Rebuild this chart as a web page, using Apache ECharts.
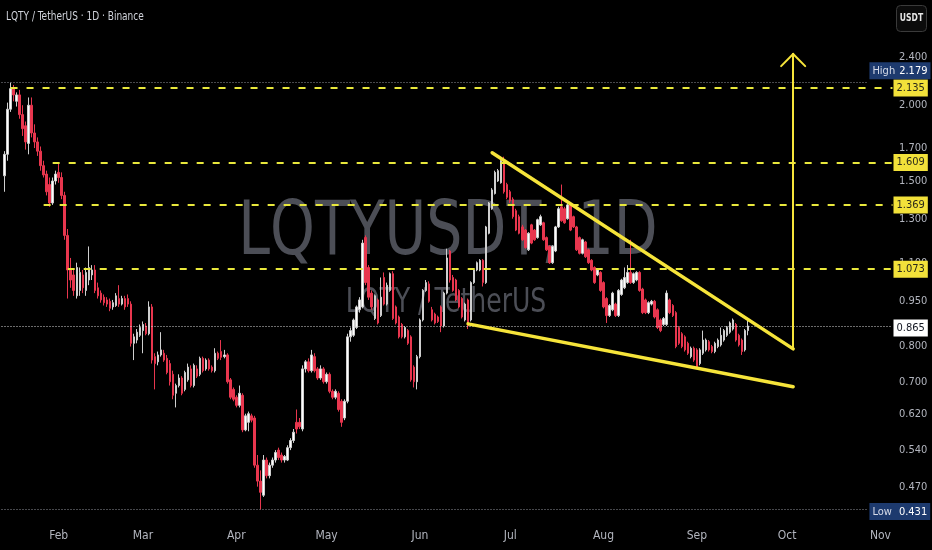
<!DOCTYPE html>
<html>
<head>
<meta charset="utf-8">
<script src="https://cdn.jsdelivr.net/npm/echarts@6/dist/echarts.min.js"></script>
<style>
  html, body { margin: 0; padding: 0; background: #000; }
  #chart { width: 932px; height: 550px; }
</style>
</head>
<body>
<div id="chart"></div>
<script>
// Daily candles, each [open, close, low, high]
const jan = [ // Jan 14 - Jan 31
  [1.53,1.66,1.44,1.68],[1.66,1.97,1.62,2.02],[1.97,2.13,1.95,2.179],[2.13,2.08,2.03,2.16],
  [2.03,2.08,1.99,2.10],[2.08,1.93,1.90,2.12],[1.93,1.83,1.78,2.00],[1.85,1.74,1.69,1.88],
  [1.73,2.00,1.66,2.06],[2.00,1.80,1.77,2.06],[1.80,1.74,1.70,1.86],[1.74,1.68,1.65,1.77],
  [1.68,1.59,1.56,1.71],[1.59,1.535,1.52,1.62],[1.54,1.44,1.42,1.56],[1.48,1.38,1.36,1.52],
  [1.38,1.50,1.37,1.52],[1.50,1.54,1.48,1.56]
];
const feb = [
  [1.55,1.52,1.49,1.609],[1.52,1.42,1.40,1.55],[1.42,1.22,1.20,1.44],[1.22,1.07,0.96,1.25],
  [1.07,1.03,1.00,1.12],[1.05,0.99,0.97,1.07],[0.97,1.08,0.96,1.10],[0.99,1.06,0.97,1.08],
  [1.05,1.00,0.98,1.07],[0.99,1.06,0.97,1.08],[1.03,1.08,1.01,1.17],[1.05,1.07,1.03,1.09],
  [1.07,0.99,0.98,1.09],[1.00,0.97,0.96,1.02],[0.98,0.955,0.945,0.99],[0.965,0.945,0.935,0.975],
  [0.955,0.94,0.93,0.965],[0.95,0.925,0.915,0.96],[0.93,0.945,0.92,0.955],[0.935,0.97,0.93,0.98],
  [0.96,0.94,0.93,1.01],[0.94,0.96,0.935,0.97],[0.96,0.93,0.92,0.97],[0.96,0.94,0.93,0.975],
  [0.94,0.81,0.80,0.95],[0.81,0.83,0.76,0.84],[0.82,0.845,0.81,0.855],[0.835,0.86,0.83,0.87]
];
const mar = [
  [0.85,0.87,0.78,0.88],[0.865,0.84,0.835,0.875],[0.84,0.93,0.835,0.95],[0.93,0.76,0.75,0.94],
  [0.77,0.75,0.68,0.78],[0.755,0.775,0.745,0.785],[0.775,0.79,0.77,0.845],[0.78,0.76,0.755,0.79],
  [0.765,0.725,0.72,0.775],[0.75,0.70,0.69,0.76],[0.72,0.665,0.655,0.73],[0.67,0.69,0.635,0.695],
  [0.69,0.71,0.685,0.72],[0.71,0.67,0.665,0.715],[0.68,0.725,0.675,0.73],[0.705,0.74,0.70,0.75],
  [0.735,0.69,0.685,0.745],[0.69,0.745,0.685,0.75],[0.735,0.715,0.71,0.745],[0.72,0.765,0.715,0.77],
  [0.765,0.73,0.725,0.77],[0.735,0.76,0.73,0.765],[0.76,0.735,0.73,0.765],[0.74,0.73,0.725,0.745],
  [0.73,0.78,0.725,0.795],[0.78,0.765,0.76,0.785],[0.785,0.768,0.76,0.82],[0.77,0.775,0.765,0.79],
  [0.775,0.70,0.695,0.78],[0.705,0.66,0.655,0.71],[0.68,0.655,0.65,0.685]
];
const apr = [
  [0.66,0.64,0.635,0.665],[0.64,0.67,0.635,0.69],[0.665,0.583,0.578,0.67],[0.583,0.615,0.58,0.62],
  [0.60,0.62,0.58,0.625],[0.615,0.605,0.60,0.62],[0.61,0.51,0.505,0.615],[0.51,0.48,0.47,0.53],
  [0.48,0.46,0.431,0.50],[0.455,0.52,0.452,0.53],[0.52,0.49,0.485,0.525],[0.49,0.51,0.485,0.515],
  [0.51,0.52,0.505,0.525],[0.52,0.535,0.515,0.54],[0.54,0.525,0.52,0.545],[0.53,0.52,0.515,0.535],
  [0.52,0.527,0.515,0.53],[0.52,0.545,0.518,0.55],[0.545,0.56,0.54,0.565],[0.56,0.578,0.555,0.585],
  [0.60,0.585,0.575,0.63],[0.60,0.59,0.585,0.61],[0.585,0.735,0.58,0.745],[0.735,0.755,0.725,0.76],
  [0.755,0.73,0.725,0.765],[0.73,0.775,0.725,0.79],[0.77,0.73,0.725,0.78],[0.735,0.71,0.705,0.74],
  [0.71,0.735,0.705,0.745],[0.735,0.70,0.695,0.74]
];
const may = [
  [0.70,0.72,0.695,0.725],[0.72,0.675,0.67,0.725],[0.675,0.66,0.655,0.68],[0.66,0.675,0.655,0.68],
  [0.67,0.63,0.625,0.675],[0.65,0.60,0.59,0.655],[0.61,0.65,0.605,0.655],[0.65,0.83,0.645,0.84],
  [0.83,0.85,0.815,0.86],[0.835,0.885,0.83,0.89],[0.86,0.93,0.855,0.935],[0.92,0.955,0.91,0.965],
  [0.93,1.185,0.925,1.20],[1.21,1.02,1.01,1.22],[1.08,0.965,0.955,1.09],[0.98,0.93,0.92,0.99],
  [0.89,0.97,0.885,0.975],[0.955,0.875,0.87,0.96],[0.90,0.965,0.895,1.04],[1.04,0.94,0.935,1.06],
  [0.94,1.01,0.935,1.02],[0.99,1.055,0.985,1.06],[1.055,0.89,0.885,1.065],[0.93,0.875,0.87,0.935],
  [0.895,0.83,0.825,0.90],[0.87,0.83,0.825,0.875],[0.83,0.86,0.825,0.865],[0.85,0.81,0.805,0.855],
  [0.83,0.705,0.70,0.835],[0.74,0.70,0.685,0.745],[0.70,0.77,0.68,0.775]
];
const jun = [
  [0.77,0.885,0.765,0.89],[0.885,0.99,0.88,0.995],[0.99,1.02,0.985,1.03],[1.015,0.95,0.945,1.025],
  [0.92,0.885,0.88,0.93],[0.905,0.875,0.87,0.91],[0.895,0.88,0.875,0.90],[0.93,0.865,0.845,0.935],
  [0.865,0.98,0.86,0.985],[0.98,1.12,0.975,1.16],[1.15,1.03,1.02,1.155],[1.04,0.99,0.985,1.05],
  [1.03,0.955,0.95,1.035],[0.99,0.93,0.925,0.995],[0.96,0.895,0.89,0.965],[0.885,0.94,0.88,0.945],
  [0.955,0.865,0.855,0.96],[0.885,1.02,0.88,1.025],[1.02,1.07,1.015,1.075],[1.07,1.10,1.065,1.105],
  [1.07,1.11,1.065,1.115],[1.11,1.02,1.005,1.115],[1.02,1.26,1.015,1.265],[1.23,1.38,1.225,1.385],
  [1.35,1.45,1.345,1.46],[1.43,1.55,1.425,1.56],[1.50,1.56,1.495,1.57],[1.49,1.62,1.485,1.64],
  [1.62,1.44,1.43,1.645],[1.48,1.41,1.40,1.49]
];
const jul = [
  [1.44,1.39,1.38,1.45],[1.40,1.31,1.30,1.41],[1.34,1.245,1.24,1.35],[1.31,1.23,1.225,1.32],
  [1.26,1.20,1.195,1.27],[1.245,1.165,1.16,1.25],[1.155,1.23,1.15,1.235],[1.27,1.185,1.18,1.275],
  [1.245,1.20,1.195,1.25],[1.21,1.295,1.205,1.30],[1.27,1.31,1.265,1.32],[1.28,1.20,1.195,1.285],
  [1.21,1.155,1.15,1.215],[1.17,1.10,1.095,1.175],[1.10,1.17,1.095,1.175],[1.15,1.26,1.145,1.265],
  [1.26,1.35,1.255,1.36],[1.36,1.29,1.285,1.48],[1.35,1.28,1.275,1.36],[1.30,1.37,1.295,1.38],
  [1.37,1.245,1.24,1.375],[1.31,1.26,1.255,1.315],[1.26,1.155,1.15,1.265],[1.21,1.14,1.135,1.215],
  [1.14,1.20,1.135,1.205],[1.19,1.125,1.12,1.195],[1.155,1.10,1.095,1.16],[1.11,1.07,1.065,1.115],
  [1.08,1.02,1.015,1.085],[1.05,1.07,1.045,1.075],[1.06,0.99,0.985,1.065]
];
const aug = [
  [1.02,0.93,0.925,1.025],[0.96,0.90,0.875,0.965],[0.90,0.935,0.895,0.94],[0.92,0.98,0.915,0.985],
  [0.94,0.90,0.895,0.945],[0.90,0.99,0.895,0.995],[0.975,1.03,0.97,1.035],[1.00,1.04,0.995,1.08],
  [1.02,1.06,1.015,1.09],[1.06,1.02,1.015,1.20],[1.02,1.055,1.015,1.06],[1.03,1.06,1.025,1.065],
  [1.06,0.99,0.985,1.065],[0.995,0.91,0.905,1.00],[0.955,0.91,0.905,0.96],[0.91,0.945,0.905,0.95],
  [0.94,0.95,0.935,0.955],[0.95,0.895,0.89,0.955],[0.92,0.86,0.855,0.925],[0.885,0.85,0.845,0.89],
  [0.87,0.89,0.865,0.895],[0.87,0.98,0.865,0.99],[0.955,0.91,0.905,0.96],[0.935,0.90,0.895,0.94],
  [0.91,0.80,0.795,0.915],[0.86,0.81,0.805,0.865],[0.84,0.80,0.795,0.845],[0.83,0.79,0.785,0.835],
  [0.81,0.78,0.775,0.815],[0.77,0.795,0.765,0.80],[0.795,0.76,0.755,0.80]
];
const sep = [ // Sep 1 - Sep 18
  [0.79,0.74,0.735,0.795],[0.75,0.79,0.745,0.795],[0.78,0.82,0.775,0.85],[0.79,0.82,0.785,0.825],
  [0.815,0.79,0.785,0.82],[0.80,0.785,0.78,0.805],[0.785,0.81,0.78,0.815],[0.80,0.82,0.795,0.825],
  [0.805,0.835,0.80,0.86],[0.82,0.85,0.815,0.855],[0.835,0.86,0.83,0.865],[0.845,0.875,0.84,0.88],
  [0.855,0.885,0.85,0.89],[0.87,0.82,0.815,0.875],[0.835,0.805,0.80,0.84],[0.82,0.785,0.775,0.825],
  [0.79,0.85,0.785,0.855],[0.85,0.865,0.835,0.89]
];

const firstDate = '2025-01-13';
const firstCandleDate = '2025-01-14';
const dayCount = 297;

const priceTicks = [2.4, 2.0, 1.7, 1.5, 1.3, 1.1, 0.95, 0.8, 0.7, 0.62, 0.54, 0.47];
const monthNames = ['Jan','Feb','Mar','Apr','May','Jun','Jul','Aug','Sep','Oct','Nov','Dec'];

const levels = [2.135, 1.609, 1.369, 1.073];
const levelStarts = ['2025-01-16', '2025-01-30', '2025-01-27', '2025-02-04'];
const highPrice = 2.179;
const lowPrice = 0.431;
const lastPrice = 0.865;
const statsLineEnd = '2025-10-28';

const upperTrend = [['2025-06-25', 1.67], ['2025-10-03', 0.793]];
const lowerTrend = [['2025-06-17', 0.872], ['2025-10-03', 0.687]];
const targetShaft = [['2025-10-03', 0.793], ['2025-10-03', 2.43]];
const targetHead = [['2025-09-29', 2.32], ['2025-10-03', 2.43], ['2025-10-07', 2.32]];

// ---- build axis categories and series ----
const dates = [];
const t0 = Date.parse(firstDate + 'T00:00:00Z');
for (let i = 0; i < dayCount; i++) {
  dates.push(new Date(t0 + i * 86400000).toISOString().slice(0, 10));
}
const candles = [].concat(jan, feb, mar, apr, may, jun, jul, aug, sep);
const start = dates.indexOf(firstCandleDate);
const seriesData = dates.map((d, i) => {
  const k = i - start;
  return (k >= 0 && k < candles.length) ? candles[k] : '-';
});
const lastDate = dates[dates.length - 1];

const FONT = 'DejaVu Sans Condensed, Liberation Sans Narrow, sans-serif';
const LEVEL_YELLOW = '#e9e83c';
const TREND_YELLOW = '#f6e43a';

function boxLabel(text, bg, fg, extra) {
  return Object.assign({
    show: true, position: 'end', distance: 1,
    formatter: text, backgroundColor: bg, color: fg,
    fontFamily: FONT, fontSize: 11, padding: [3, 3, 2, 3], lineHeight: 12
  }, extra || {});
}

const markLines = [];
levels.forEach((v, k) => {
  markLines.push([
    { coord: [levelStarts[k], v],
      lineStyle: { color: LEVEL_YELLOW, width: 2, type: [7, 9] },
      label: boxLabel(v.toFixed(3), '#f2e13a', '#2a2a1a') },
    { coord: [lastDate, v] }
  ]);
});
markLines.push([
  { coord: [dates[0], highPrice],
    lineStyle: { color: '#8e9099', width: 1, type: [1, 2] },
    label: boxLabel('{a|High}{b|' + highPrice.toFixed(3) + '}', '#1d3a6e', '#ffffff', {
      offset: [0, -12],
      rich: { a: { color: '#d6dbe8', fontFamily: FONT, fontSize: 11, padding: [0, 4, 0, 0] },
              b: { color: '#ffffff', fontFamily: FONT, fontSize: 11 } }
    }) },
  { coord: [statsLineEnd, highPrice] }
]);
markLines.push([
  { coord: [dates[0], lowPrice],
    lineStyle: { color: '#8e9099', width: 1, type: [1, 2] },
    label: boxLabel('{a|Low}{b|' + lowPrice.toFixed(3) + '}', '#1d3a6e', '#ffffff', {
      offset: [0, 2],
      rich: { a: { color: '#d6dbe8', fontFamily: FONT, fontSize: 11, padding: [0, 7, 0, 0] },
              b: { color: '#ffffff', fontFamily: FONT, fontSize: 11 } }
    }) },
  { coord: [statsLineEnd, lowPrice] }
]);
markLines.push([
  { coord: [dates[0], lastPrice],
    lineStyle: { color: '#d8d8d8', width: 1, type: [1, 2] },
    label: boxLabel(lastPrice.toFixed(3), '#ffffff', '#131722', { offset: [0, 2] }) },
  { coord: [lastDate, lastPrice] }
]);
function solidSegment(a, b, width, color) {
  return [
    { coord: a, lineStyle: { color: color, width: width, type: 'solid', cap: 'round' }, label: { show: false } },
    { coord: b }
  ];
}
markLines.push(solidSegment(upperTrend[0], upperTrend[1], 3.5, TREND_YELLOW));
markLines.push(solidSegment(lowerTrend[0], lowerTrend[1], 3.5, TREND_YELLOW));
markLines.push(solidSegment(targetShaft[0], targetShaft[1], 2, TREND_YELLOW));
markLines.push(solidSegment(targetHead[0], targetHead[1], 2, TREND_YELLOW));
markLines.push(solidSegment(targetHead[1], targetHead[2], 2, TREND_YELLOW));

const chart = echarts.init(document.getElementById('chart'), null, { renderer: 'canvas' });
chart.setOption({
  backgroundColor: '#000000',
  animation: false,
  grid: { left: 0, right: 38, top: 0, bottom: 28, containLabel: false, outerBoundsMode: 'none' },
  xAxis: {
    type: 'category',
    data: dates,
    boundaryGap: true,
    axisLine: { show: false },
    axisTick: { show: false },
    splitLine: { show: false },
    axisLabel: {
      interval: (idx, val) => val.slice(8) === '01',
      formatter: val => monthNames[parseInt(val.slice(5, 7), 10) - 1],
      color: '#b2b5be', fontFamily: FONT, fontSize: 12, margin: 8, hideOverlap: false
    }
  },
  yAxis: {
    type: 'log',
    logBase: 10,
    min: 0.41099,
    max: 2.9822,
    position: 'right',
    axisLine: { show: false },
    axisTick: { show: false },
    splitLine: { show: false },
    axisLabel: {
      customValues: priceTicks,
      formatter: v => Number(v).toFixed(3),
      color: '#b2b5be', fontFamily: FONT, fontSize: 11, margin: 5, hideOverlap: false
    }
  },
  graphic: [
    { type: 'text', x: 448, y: 235, z: -10, scaleX: 0.845, silent: true,
      style: { text: 'LQTYUSDT, 1D', font: '75px ' + FONT, fill: '#4c4e56', align: 'center', verticalAlign: 'middle' } },
    { type: 'text', x: 446, y: 303, z: -10, scaleX: 0.82, silent: true,
      style: { text: 'LQTY / TetherUS', font: '34px ' + FONT, fill: '#4c4e56', align: 'center', verticalAlign: 'middle' } },
    { type: 'text', x: 6, y: 17, scaleX: 0.8, silent: true,
      style: { text: 'LQTY / TetherUS \u00b7 1D \u00b7 Binance', font: '12.5px ' + FONT, fill: '#d1d4dc', align: 'left', verticalAlign: 'middle' } },
    { type: 'rect', silent: true, shape: { x: 896.5, y: 5.5, width: 30, height: 26, r: 4 },
      style: { fill: '#0b0b0b', stroke: '#3a3a3a', lineWidth: 1 } },
    { type: 'text', x: 911.5, y: 18.5, scaleX: 0.85, silent: true,
      style: { text: 'USDT', font: 'bold 10px ' + FONT, fill: '#e6e6e6', align: 'center', verticalAlign: 'middle' } }
  ],
  series: [{
    type: 'candlestick',
    data: seriesData,
    barWidth: 2,
    itemStyle: {
      color: '#ffffff', color0: '#e8364e',
      borderColor: '#cfcfcf', borderColor0: '#e8364e', borderWidth: 1
    },
    markLine: {
      silent: true,
      symbol: ['none', 'none'],
      label: { show: false },
      data: markLines
    }
  }]
});
</script>
</body>
</html>
